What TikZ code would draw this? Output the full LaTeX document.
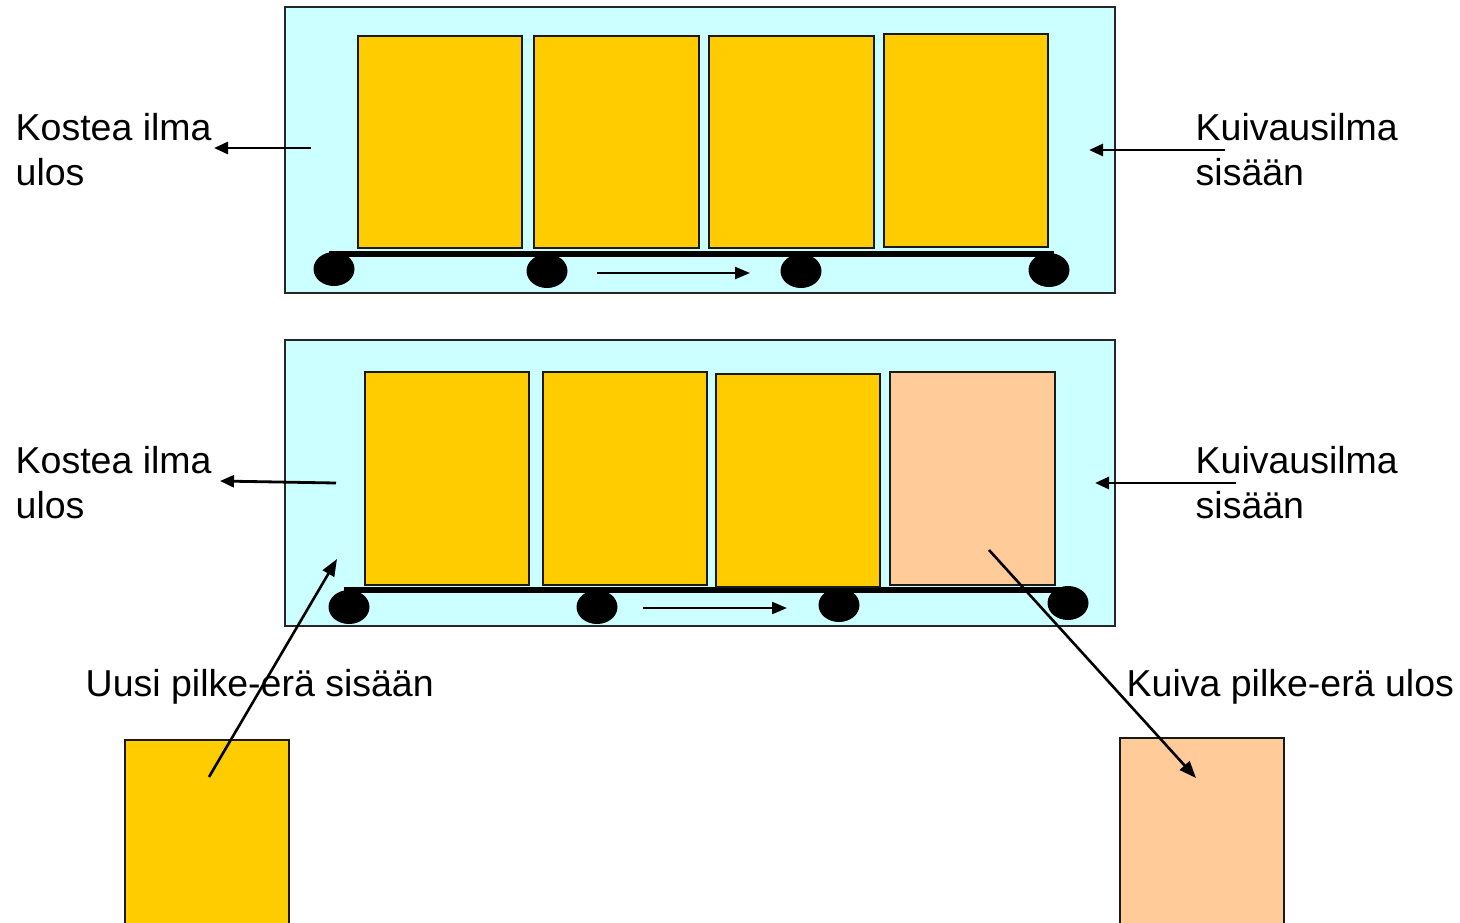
\documentclass[tikz,border=0pt]{standalone}
\usepackage{fontspec}
\setmainfont{Liberation Sans}
\usetikzlibrary{arrows.meta,shapes.geometric}
\definecolor{aircyan}{HTML}{CCFFFF}
\definecolor{wetwood}{HTML}{FFCC00}
\definecolor{drywood}{HTML}{FFCC99}
\tikzset{
  chamber/.style={draw=black!85, line width=2pt, fill=aircyan, rectangle, inner sep=0pt, minimum width=830pt, minimum height=286pt},
  wetbox/.style={draw=black!90, line width=2pt, fill=wetwood, rectangle, inner sep=0pt, minimum width=164pt, minimum height=212pt},
  drybox/.style={draw=black!90, line width=2pt, fill=drywood, rectangle, inner sep=0pt, minimum width=164pt, minimum height=212pt},
  wheel/.style={ellipse, fill=black, inner sep=0pt, minimum width=41pt, minimum height=34pt},
  bar/.style={line width=5.5pt},
  label/.style={inner sep=0pt, anchor=base west, font=\fontsize{37.5}{45}\selectfont},
  airarrow/.style={line width=2.8pt, -{Triangle[length=14pt,width=12pt]}},
  movearrow/.style={line width=2.4pt, -{Triangle[length=15pt,width=12pt]}},
  batcharrow/.style={line width=2.6pt, -{Triangle[length=17pt,width=13pt]}}
}
\begin{document}
\begin{tikzpicture}[x=1pt,y=-1pt]
\useasboundingbox (0,0) rectangle (1460,922);
\clip (0,0) rectangle (1460,922);
% ---------- top chamber ----------
\node[chamber] (ch1) at (700,150) {};
\coordinate (b1s) at (329,254); \coordinate (b1e) at (1054,254);
\draw[bar] (b1s) -- (b1e);
\node[wetbox] (t1) at (440,142) {};
\node[wetbox, minimum width=165pt] (t2) at (616.5,142) {};
\node[wetbox, minimum width=165pt] (t3) at (791.5,142) {};
\node[wetbox, minimum height=213pt] (t4) at (966,140.5) {};
\node[wheel] (w11) at (334,269) {};
\node[wheel] (w12) at (547,271) {};
\node[wheel] (w13) at (801,271) {};
\node[wheel] (w14) at (1049,270) {};
\coordinate (m1s) at (597,273); \coordinate (m1e) at (750,273);
\draw[movearrow] (m1s) -- (m1e);
% air arrows top
\coordinate (a1s) at (311,148); \coordinate (a1e) at (214,148);
\draw[airarrow] (a1s) -- (a1e);
\coordinate (a2s) at (1225,150); \coordinate (a2e) at (1089,150);
\draw[airarrow] (a2s) -- (a2e);
\node[label] (k1a) at (15.5,140) {Kostea ilma};
\node[label] (k1b) at (15.5,185) {ulos};
\node[label] (d1a) at (1195.5,140) {Kuivausilma};
\node[label] (d1b) at (1195.5,185) {sisään};
% ---------- bottom chamber ----------
\node[chamber] (ch2) at (700,483) {};
\coordinate (b2s) at (344,590); \coordinate (b2e) at (1068,590);
\draw[bar] (b2s) -- (b2e);
\node[wetbox, minimum height=213pt] (u1) at (447,478.5) {};
\node[wetbox, minimum height=213pt] (u2) at (625,478.5) {};
\node[wetbox, minimum height=213pt] (u3) at (798,480.5) {};
\node[drybox, minimum width=165pt, minimum height=213pt] (u4) at (972.5,478.5) {};
\node[wheel] (w21) at (349,607) {};
\node[wheel] (w22) at (597,607) {};
\node[wheel] (w23) at (839,605) {};
\node[wheel] (w24) at (1068,603) {};
\coordinate (m2s) at (643,608); \coordinate (m2e) at (787,608);
\draw[movearrow] (m2s) -- (m2e);
\coordinate (a3s) at (336,483); \coordinate (a3e) at (220,481);
\draw[airarrow] (a3s) -- (a3e);
\coordinate (a4s) at (1236,483); \coordinate (a4e) at (1095,483);
\draw[airarrow] (a4s) -- (a4e);
\node[label] (k2a) at (15.5,473) {Kostea ilma};
\node[label] (k2b) at (15.5,518) {ulos};
\node[label] (d2a) at (1195.5,473) {Kuivausilma};
\node[label] (d2b) at (1195.5,518) {sisään};
% ---------- batches in / out ----------
\node[wetbox, minimum height=200pt] (newb) at (206.5,840) {};
\node[drybox, minimum height=200pt] (outb) at (1202,838) {};
\node[label] (lin) at (85.5,696) {Uusi pilke-erä sisään};
\node[label] (lout) at (1126.5,696) {Kuiva pilke-erä ulos};
\coordinate (ins) at (209,777); \coordinate (ine) at (337,559);
\draw[batcharrow] (ins) -- (ine);
\coordinate (outs) at (989,550); \coordinate (oute) at (1196,778);
\draw[batcharrow] (outs) -- (oute);
\end{tikzpicture}
\end{document}
